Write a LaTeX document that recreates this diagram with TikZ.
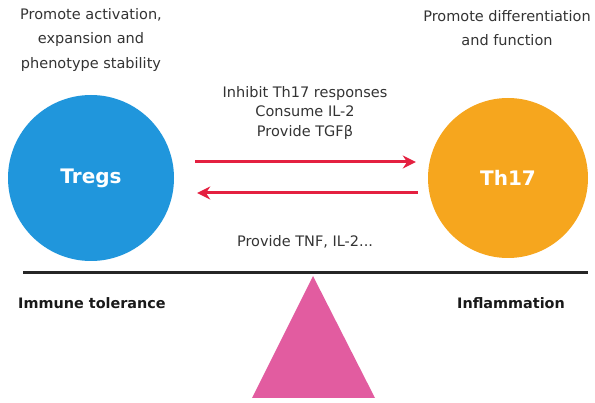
\documentclass[tikz,border=0pt]{standalone}
\usepackage{fontspec}
\setmainfont{DejaVu Sans}
\usetikzlibrary{positioning, arrows.meta}

\definecolor{tregblue}{RGB}{32,150,220}
\definecolor{thorange}{RGB}{246,166,30}
\definecolor{arrowred}{RGB}{228,32,64}
\definecolor{pivotpink}{RGB}{226,92,160}

\begin{document}
\begin{tikzpicture}[x=1pt, y=-1pt,
	cell/.style={circle, inner sep=0pt, text=white, font=\fontsize{20}{24}\selectfont\bfseries},
	note/.style={align=center, text=black!80, font=\fontsize{14.5}{24.5}\selectfont},
	signal/.style={align=center, text=black!80, font=\fontsize{14.5}{19.5}\selectfont},
	side/.style={text=black!90, font=\fontsize{14.4}{17}\selectfont\bfseries},
	act/.style={draw=arrowred, line width=3pt, -{Stealth[length=13pt, width=13pt]}}]
	\useasboundingbox (0,0) rectangle (595,403);
	\node (tregs) [cell, fill=tregblue, minimum size=166pt] at (91,178) {Tregs};
	\node (th17) [cell, fill=thorange, minimum size=160pt] at (508,178) {Th17};
	\node (tregsnote) [note] at (91,40) {Promote activation,\\expansion and\\phenotype stability};
	\node (th17note) [note] at (507,28) {Promote differentiation\\and function};
	\node (forward) [signal] at (305,113) {Inhibit Th17 responses\\Consume IL-2\\Provide TGFβ};
	\node (backward) [signal] at (305,242) {Provide TNF, IL-2...};
	\node (tolerance) [side] at (92,303) {Immune tolerance};
	\node (inflam) [side] at (511,303) {Inflammation};
	\coordinate (beamL) at (23,273);
	\coordinate (beamR) at (588,273);
	\coordinate (pivot) at (313,276);
	% balance
	\draw [line width=3pt, black!85] (beamL) -- (beamR);
	\fill [pivotpink] (pivot) -- (375,398) -- (252,398) -- cycle;
	% exchange between the two cell types
	\draw [act] ([xshift=21pt, yshift=16pt]tregs.east) -- ([xshift=-12pt, yshift=16pt]th17.west);
	\draw [act] ([xshift=-10pt, yshift=-15pt]th17.west) -- ([xshift=23pt, yshift=-15pt]tregs.east);
\end{tikzpicture}
\end{document}
